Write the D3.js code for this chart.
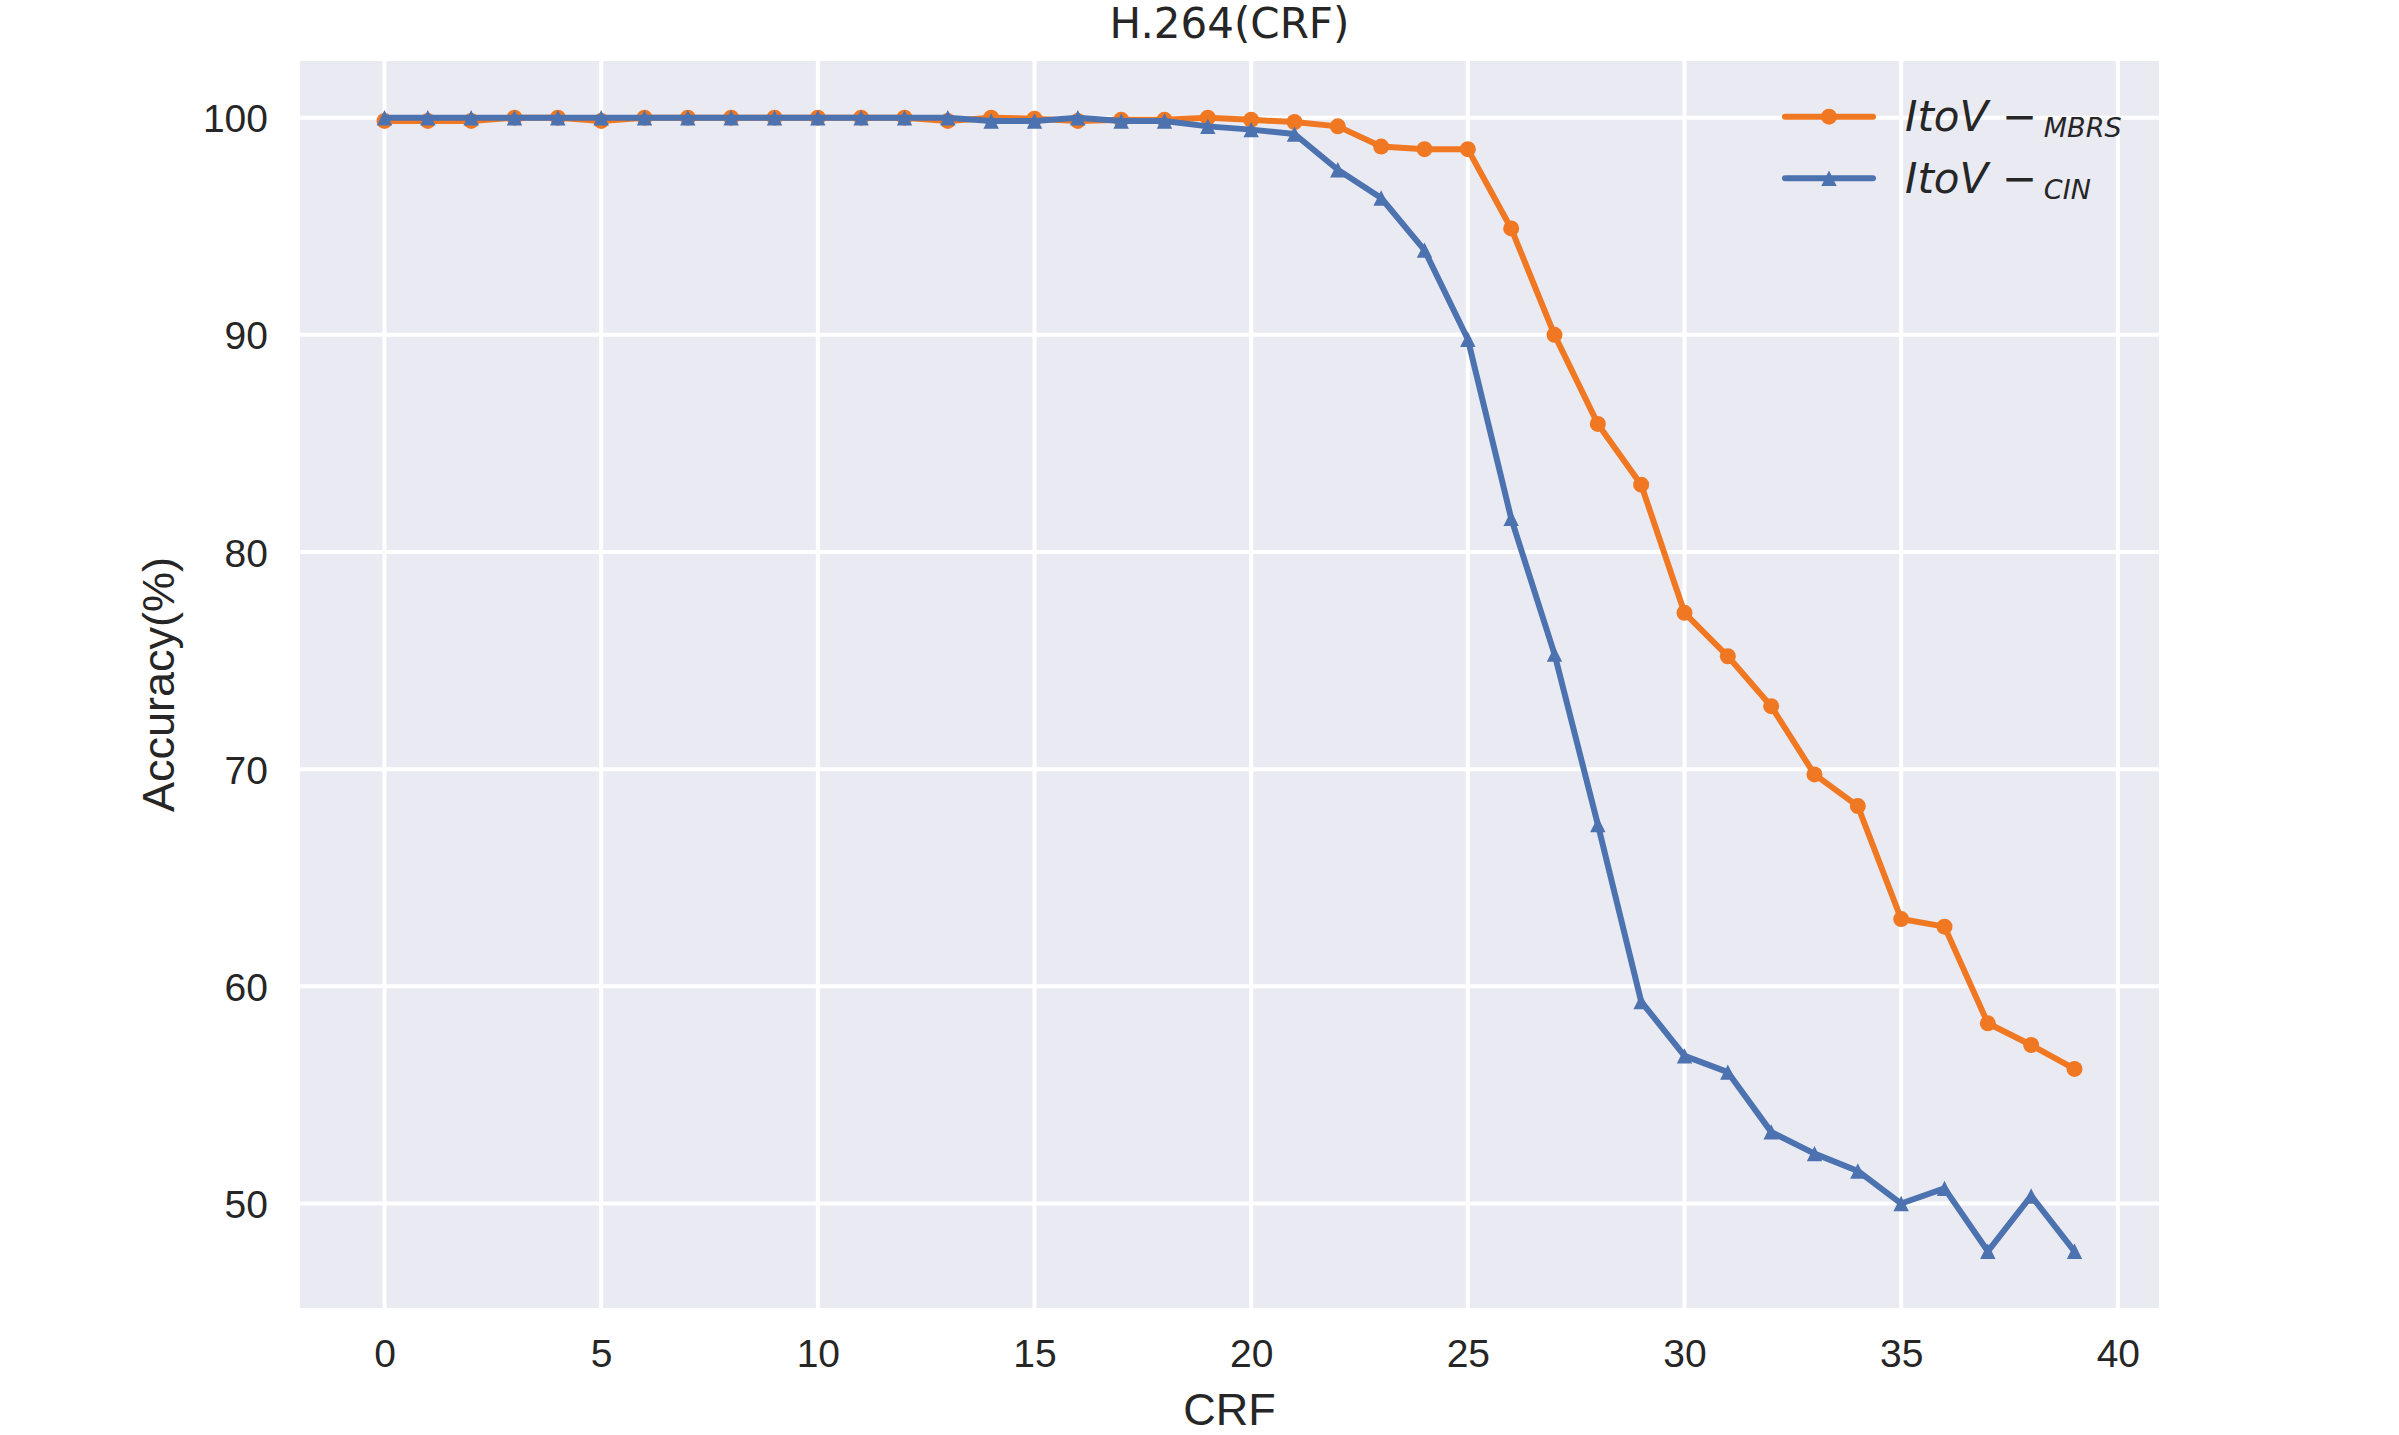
<!DOCTYPE html>
<html>
<head>
<meta charset="utf-8">
<script src="https://cdn.jsdelivr.net/npm/d3@7"></script>
<style>
  html, body { margin: 0; padding: 0; background: #ffffff; }
  svg { display: block; }
</style>
</head>
<body>
<svg id="chart" width="2399" height="1435"></svg>
<script>
// ---------- data ----------
const crf = [0,1,2,3,4,5,6,7,8,9,10,11,12,13,14,15,16,17,18,19,20,21,22,23,24,25,26,27,28,29,30,31,32,33,34,35,36,37,38,39];
const mbrs = [99.85,99.85,99.85,100,100,99.85,100,100,100,100,100,100,100,99.85,100,99.95,99.85,99.9,99.9,100,99.9,99.8,99.6,98.67,98.55,98.55,94.9,90.0,85.9,83.1,77.2,75.2,72.9,69.76,68.3,63.1,62.75,58.3,57.3,56.2];
const cin = [100,100,100,100,100,100,100,100,100,100,100,100,100,100,99.85,99.85,100,99.85,99.85,99.6,99.45,99.25,97.6,96.3,93.9,89.8,81.55,75.3,67.45,59.3,56.8,56.05,53.3,52.3,51.5,50.0,50.7,47.8,50.35,47.8];
const xTicks = [0,5,10,15,20,25,30,35,40];
const yTicks = [50,60,70,80,90,100];
const titleText = "H.264(CRF)";
const xLabel = "CRF";
const yLabel = "Accuracy(%)";
const seriesNames = ["MBRS", "CIN"];

// ---------- layout ----------
const svg = d3.select("#chart");
const L = 300, R = 2159, T = 61, B = 1308;
const orange = "#f07823", blue = "#4c72b0";

const xMin = d3.min(crf), xMax = d3.max(crf);
const xPad = (xMax - xMin) * 0.05;
const allY = mbrs.concat(cin);
const yMin = d3.min(allY), yMax = d3.max(allY);
const yPad = (yMax - yMin) * 0.05;

const x = d3.scaleLinear().domain([xMin - xPad, xMax + xPad]).range([L, R]);
const y = d3.scaleLinear().domain([yMin - yPad, yMax + yPad]).range([B, T]);

// background
svg.append("rect").attr("x", L).attr("y", T).attr("width", R - L).attr("height", B - T).attr("fill", "#eaeaf2");

// grid
const grid = svg.append("g");
grid.selectAll(".gx").data(xTicks).enter().append("line")
  .attr("x1", d => x(d)).attr("x2", d => x(d)).attr("y1", T).attr("y2", B)
  .attr("stroke", "#ffffff").attr("stroke-width", 4);
grid.selectAll(".gy").data(yTicks).enter().append("line")
  .attr("x1", L).attr("x2", R).attr("y1", d => y(d)).attr("y2", d => y(d))
  .attr("stroke", "#ffffff").attr("stroke-width", 4);

// axes via d3 axis generators (domain/ticks hidden, labels styled)
const xAxis = svg.append("g").attr("transform", `translate(0,${B})`)
  .call(d3.axisBottom(x).tickValues(xTicks).tickSize(0).tickPadding(30).tickFormat(d3.format("d")));
const yAxis = svg.append("g").attr("transform", `translate(${L},0)`)
  .call(d3.axisLeft(y).tickValues(yTicks).tickSize(0).tickPadding(32).tickFormat(d3.format("d")));
[xAxis, yAxis].forEach(a => {
  a.select(".domain").remove();
  a.selectAll("text").attr("font-family", "'Liberation Sans', Arial, sans-serif")
    .attr("font-size", 39).attr("fill", "#262626");
});
xAxis.selectAll("text").attr("dy", null).attr("y", 59);
yAxis.selectAll("text").attr("dy", "0.36em");

// lines
const line = d3.line().x((d, i) => x(crf[i])).y(d => y(d));
const sym = {
  circle: d3.symbol().type(d3.symbolCircle).size(Math.PI * 8 * 8),
};
function triPath(h) { return `M0,${-h}L${h},${h}L${-h},${h}Z`; }

function drawSeries(vals, color, marker) {
  svg.append("path").datum(vals).attr("d", line)
    .attr("fill", "none").attr("stroke", color).attr("stroke-width", 6)
    .attr("stroke-linejoin", "round").attr("stroke-linecap", "round");
  const g = svg.append("g");
  g.selectAll("path").data(vals).enter().append("path")
    .attr("transform", (d, i) => `translate(${x(crf[i])},${y(d)})`)
    .attr("d", marker === "circle" ? sym.circle() : triPath(7.7))
    .attr("fill", color);
}
drawSeries(mbrs, orange, "circle");
drawSeries(cin, blue, "triangle");

// title & labels
svg.append("text").attr("x", (L + R) / 2).attr("y", 38).attr("text-anchor", "middle")
  .attr("font-family", "'DejaVu Sans', sans-serif").attr("font-size", 42).attr("fill", "#262626")
  .text(titleText);
svg.append("text").attr("x", (L + R) / 2).attr("y", 1425).attr("text-anchor", "middle")
  .attr("font-family", "'Liberation Sans', Arial, sans-serif").attr("font-size", 45).attr("fill", "#262626")
  .text(xLabel);
svg.append("text").attr("transform", `translate(174,${(T + B) / 2}) rotate(-90)`).attr("text-anchor", "middle")
  .attr("font-family", "'Liberation Sans', Arial, sans-serif").attr("font-size", 45).attr("fill", "#262626")
  .text(yLabel);

// legend
const legend = svg.append("g");
const legRows = [
  { name: seriesNames[0], color: orange, marker: "circle", y: 116.7 },
  { name: seriesNames[1], color: blue, marker: "triangle", y: 178.3 }
];
legRows.forEach(r => {
  legend.append("line").attr("x1", 1785).attr("x2", 1873).attr("y1", r.y).attr("y2", r.y)
    .attr("stroke", r.color).attr("stroke-width", 6).attr("stroke-linecap", "round");
  legend.append("path").attr("transform", `translate(1829,${r.y})`)
    .attr("d", r.marker === "circle" ? sym.circle() : triPath(7.7)).attr("fill", r.color);
  const t = legend.append("text").attr("x", 1905).attr("y", r.y + 14.5)
    .attr("font-family", "'DejaVu Sans', sans-serif").attr("font-style", "italic")
    .attr("font-size", 42).attr("fill", "#262626");
  t.append("tspan").text("ItoV \u2212");
  t.append("tspan").attr("dx", 7).attr("dy", 6).attr("font-size", 27).text(r.name);
});
</script>
</body>
</html>
